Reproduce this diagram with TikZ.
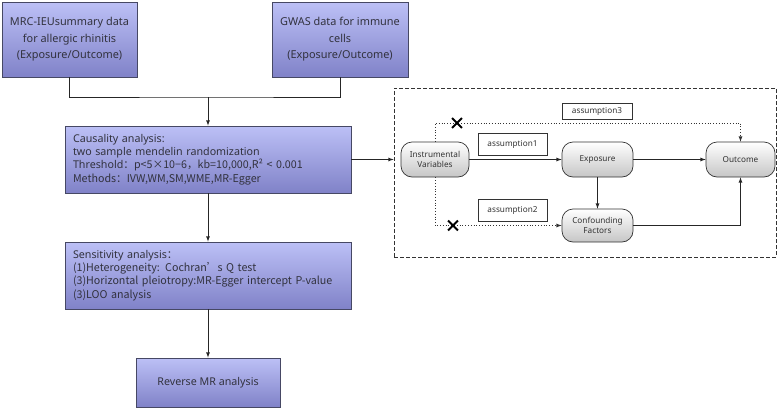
\documentclass[tikz,border=0pt]{standalone}
\usepackage{fontspec}
\setmainfont{Noto Sans}
\newfontfamily\cjk{Noto Sans CJK SC}
\usetikzlibrary{shapes.misc}
\definecolor{boxtop}{RGB}{188,192,246}
\definecolor{boxbot}{RGB}{128,130,200}
\definecolor{boxline}{RGB}{70,72,100}
\definecolor{txt}{RGB}{50,50,62}
\begin{document}
\begin{tikzpicture}[x=1pt,y=-1pt,
	mainbox/.style={ rectangle, draw=boxline, line width=0.8pt, top color=boxtop, bottom color=boxbot, text=txt, inner sep=0pt },
	roundbox/.style={ rectangle, rounded corners=11pt, draw=gray!40!black, line width=0.7pt, top color=white, bottom color=gray!45, text=gray!40!black, font=\fontsize{8.2}{10.5}\selectfont, align=center, inner sep=0pt, minimum height=35pt },
	tagbox/.style={ rectangle, draw=gray!40!black, line width=0.7pt, fill=white, text=gray!40!black, font=\fontsize{8.2}{10}\selectfont, inner sep=0pt },
	crossmark/.style={ cross out, draw=black, line width=1.8pt, minimum size=8pt, inner sep=0pt },
	link/.style={ draw=gray!30!black, line width=0.8pt },
	hint/.style={ draw=gray!40!black, line width=0.8pt, dotted },
]
\useasboundingbox (0,0) rectangle (779,410);

% left column
\node at (69.5,39.5) (src1) [mainbox, minimum width=135pt, minimum height=75pt, align=center, font=\fontsize{10.9}{16.5}\selectfont] {MRC-IEUsummary data\\for allergic rhinitis\\(Exposure/Outcome)};
\node at (340,39.5) (src2) [mainbox, minimum width=136pt, minimum height=75pt, align=center, font=\fontsize{10.9}{16.5}\selectfont] {GWAS data for immune\\cells\\(Exposure/Outcome)};
\coordinate (join) at (208,97);
\draw[link] (src1.south) |- (join) -| (src2.south);

\node at (208,159.5) (caus) [mainbox, minimum width=286pt, minimum height=67pt, text width=270pt, align=left, font=\fontsize{10.7}{13.3}\selectfont] {Causality analysis:\\two sample mendelin randomization\\Threshold\cjk{：}p<5×10−6\cjk{，}kb=10,000,R² < 0.001\\Methods\cjk{：}IVW,WM,SM,WME,MR-Egger};
\draw[link,-latex] (join) -- (caus.north);

\node at (208,275.5) (sens) [mainbox, minimum width=286pt, minimum height=67pt, text width=270pt, align=left, font=\fontsize{10.7}{13.3}\selectfont] {Sensitivity analysis\cjk{：}\\(1)Heterogeneity: Cochran\cjk{’}s Q test\\(3)Horizontal pleiotropy:MR-Egger intercept P-value\\(3)LOO analysis};
\draw[link,-latex] (caus) -- (sens);

\node at (208,382.5) (rev) [mainbox, minimum width=144pt, minimum height=49pt, font=\fontsize{10.7}{13}\selectfont] {Reverse MR analysis};
\draw[link,-latex] (sens) -- (rev);

% assumptions panel
\node at (585,172.5) (frame) [rectangle, draw=gray!40!black, line width=0.8pt, dash pattern=on 4pt off 2pt, minimum width=382pt, minimum height=169pt] {};
\draw[link,-latex] (caus.east) -- (caus.east -| frame.west);

\node at (435,159.5) (iv) [roundbox, minimum width=68pt] {Instrumental\\Variables};
\node at (597.5,159.5) (expo) [roundbox, minimum width=71pt] {Exposure};
\node at (740.5,159.5) (outc) [roundbox, minimum width=69pt] {Outcome};
\node at (597.5,225.5) (conf) [roundbox, minimum width=71pt, minimum height=33pt] {Confounding\\Factors};

\node at (597,111) (tag3) [tagbox, minimum width=70pt, minimum height=16pt] {assumption3};
\node at (512.5,144) (tag1) [tagbox, minimum width=69pt, minimum height=22pt] {assumption1};
\node at (512.5,210) (tag2) [tagbox, minimum width=69pt, minimum height=22pt] {assumption2};

\draw[link,-latex] (iv) -- (expo);
\draw[link,-latex] (expo) -- (outc);
\draw[link,-latex] (expo) -- (conf);
\draw[link,-latex] (conf.east) -| (outc.south);

\coordinate (up3) at (435,123);
\coordinate (down2) at (435,225.5);
\draw[hint,-latex] (iv.north) -- (up3) -| (outc.north);
\draw[hint,-latex] (iv.south) -- (down2) -- (conf.west);
\node at (457,123) (x3) [crossmark] {};
\node at (453,225.5) (x2) [crossmark] {};

\end{tikzpicture}
\end{document}
